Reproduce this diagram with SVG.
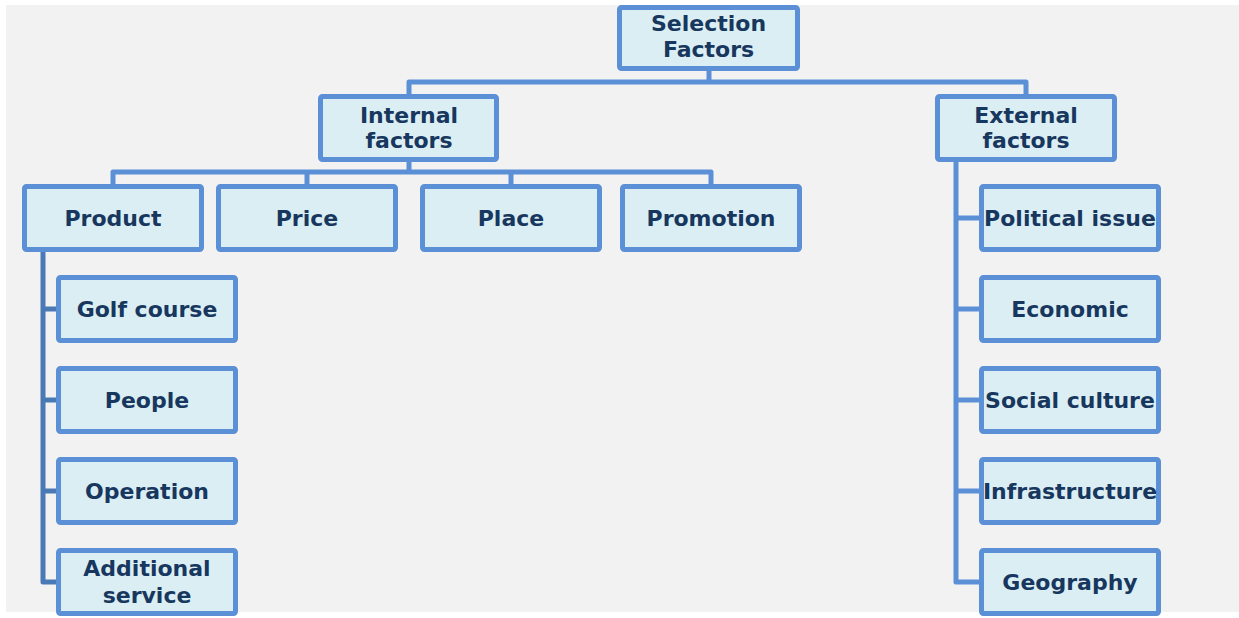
<svg xmlns="http://www.w3.org/2000/svg" width="1239" height="618" viewBox="0 0 1239 618">
<style>
.box{fill:#dbeef4;stroke:#5b8fd6;stroke-width:5}
.t{font-family:"DejaVu Sans",Verdana,sans-serif;font-weight:bold;font-size:22px;fill:#17375e;text-anchor:middle}
.c{fill:none;stroke:#5b8fd6;stroke-width:5;stroke-linejoin:round}
.c2{fill:none;stroke:#4a7ab5;stroke-width:5;stroke-linejoin:round}
</style>
<rect x="0" y="0" width="1239" height="618" fill="#ffffff"/>
<rect x="6" y="5" width="1233" height="607" fill="#f2f2f2"/>
<g id="connectors">
<path class="c" d="M709 71 V82 M409 94 V82 H1026 V94"/>
<path class="c" d="M409 162 V172 M113 184 V172 H711 V184 M307 172 V184 M511 172 V184"/>
<path class="c2" d="M43 252 V582 H56 M43 309 H56 M43 400 H56 M43 491 H56"/>
<path class="c" d="M956 162 V582 H979 M956 218 H979 M956 309 H979 M956 400 H979 M956 491 H979"/>
</g>
<g id="selection"><rect class="box" x="619.5" y="7.5" width="178" height="61" rx="2"/><text class="t" x="708.5" y="31">Selection</text><text class="t" x="708.5" y="57">Factors</text></g>
<g id="internal"><rect class="box" x="320.5" y="96.5" width="176" height="63" rx="2"/><text class="t" x="409" y="123">Internal</text><text class="t" x="409" y="148">factors</text></g>
<g id="external"><rect class="box" x="937.5" y="96.5" width="177" height="63" rx="2"/><text class="t" x="1026" y="123">External</text><text class="t" x="1026" y="148">factors</text></g>
<g id="product"><rect class="box" x="24.5" y="186.5" width="177" height="63" rx="2"/><text class="t" x="113" y="226">Product</text></g>
<g id="price"><rect class="box" x="218.5" y="186.5" width="177" height="63" rx="2"/><text class="t" x="307" y="226">Price</text></g>
<g id="place"><rect class="box" x="422.5" y="186.5" width="177" height="63" rx="2"/><text class="t" x="511" y="226">Place</text></g>
<g id="promotion"><rect class="box" x="622.5" y="186.5" width="177" height="63" rx="2"/><text class="t" x="711" y="226">Promotion</text></g>
<g id="golf"><rect class="box" x="58.5" y="277.5" width="177" height="63" rx="2"/><text class="t" x="147" y="317">Golf course</text></g>
<g id="people"><rect class="box" x="58.5" y="368.5" width="177" height="63" rx="2"/><text class="t" x="147" y="408">People</text></g>
<g id="operation"><rect class="box" x="58.5" y="459.5" width="177" height="63" rx="2"/><text class="t" x="147" y="499">Operation</text></g>
<g id="additional"><rect class="box" x="58.5" y="550.5" width="177" height="63" rx="2"/><text class="t" x="147" y="576">Additional</text><text class="t" x="147" y="603">service</text></g>
<g id="political"><rect class="box" x="981.5" y="186.5" width="177" height="63" rx="2"/><text class="t" x="1070" y="226">Political issue</text></g>
<g id="economic"><rect class="box" x="981.5" y="277.5" width="177" height="63" rx="2"/><text class="t" x="1070" y="317">Economic</text></g>
<g id="social"><rect class="box" x="981.5" y="368.5" width="177" height="63" rx="2"/><text class="t" x="1070" y="408">Social culture</text></g>
<g id="infrastructure"><rect class="box" x="981.5" y="459.5" width="177" height="63" rx="2"/><text class="t" x="1070" y="499">Infrastructure</text></g>
<g id="geography"><rect class="box" x="981.5" y="550.5" width="177" height="63" rx="2"/><text class="t" x="1070" y="590">Geography</text></g>
</svg>
